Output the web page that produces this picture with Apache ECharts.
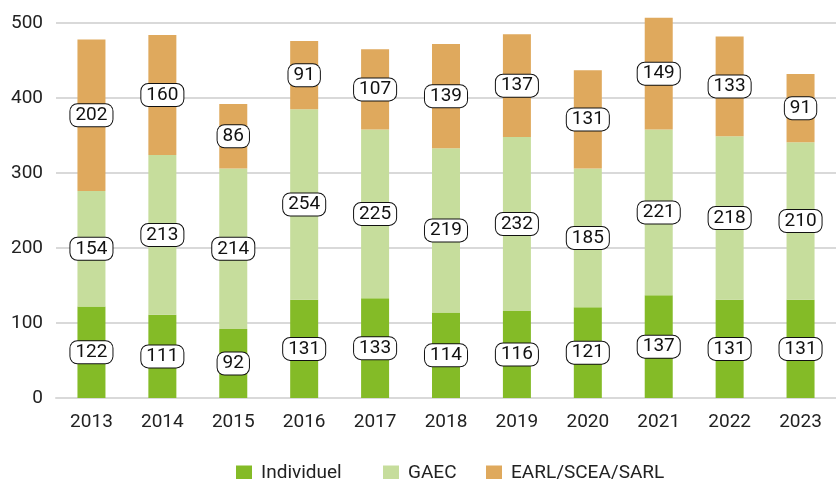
<!DOCTYPE html>
<html>
<head>
<meta charset="utf-8">
<script src="https://cdn.jsdelivr.net/npm/echarts@6/dist/echarts.min.js"></script>
<style>
  html, body { margin: 0; padding: 0; background: #fff; }
  #chart { width: 836px; height: 479px; }
</style>
</head>
<body>
<div id="chart"></div>
<script>
const years = ['2013', '2014', '2015', '2016', '2017', '2018', '2019', '2020', '2021', '2022', '2023'];
const individuel = [122, 111, 92, 131, 133, 114, 116, 121, 137, 131, 131];
const gaec = [154, 213, 214, 254, 225, 219, 232, 185, 221, 218, 210];
const earl = [202, 160, 86, 91, 107, 139, 137, 131, 149, 133, 91];

const names = ['Individuel', 'GAEC', 'EARL/SCEA/SARL'];
const colors = ['#84bb27', '#c6dd9c', '#dfa95d'];
const legendLeft = [231, 378, 481];
const fontFamily = 'Roboto, sans-serif';

const labelStyle = {
  show: true,
  position: 'inside',
  color: '#111',
  fontFamily: fontFamily,
  fontSize: 19,
  backgroundColor: '#fff',
  borderColor: '#111',
  borderWidth: 1,
  borderRadius: 7,
  padding: [2, 5, 1, 5]
};

function makeSeries(name, data, color) {
  return {
    name: name,
    type: 'bar',
    stack: 'total',
    barWidth: 28,
    clip: false,
    data: data,
    itemStyle: { color: color },
    label: labelStyle,
    emphasis: { disabled: true }
  };
}

// one legend per item so each sits where the reference puts it
const legends = names.map((n, i) => ({
  left: legendLeft[i],
  top: 459,
  itemWidth: 16,
  itemHeight: 16,
  icon: 'rect',
  textStyle: { fontSize: 19, color: '#222', fontFamily: fontFamily, padding: [0, 0, 0, 4] },
  data: [n]
}));

const chart = echarts.init(document.getElementById('chart'));
chart.setOption({
  animation: false,
  color: colors,
  textStyle: { fontFamily: fontFamily },
  grid: { left: 56, width: 788, top: 23, bottom: 81 },
  legend: legends,
  xAxis: {
    type: 'category',
    data: years,
    axisLine: { show: true, lineStyle: { color: '#d9d9d9', width: 2 } },
    axisTick: { show: false },
    axisLabel: { fontSize: 19, color: '#222', margin: 15 }
  },
  yAxis: {
    type: 'value',
    min: 0,
    max: 500,
    interval: 100,
    axisLine: { show: false },
    axisTick: { show: false },
    splitLine: { lineStyle: { color: '#d9d9d9', width: 2 } },
    axisLabel: { fontSize: 19, color: '#222', margin: 13 }
  },
  series: [
    makeSeries(names[0], individuel, colors[0]),
    makeSeries(names[1], gaec, colors[1]),
    makeSeries(names[2], earl, colors[2])
  ]
});
</script>
</body>
</html>
